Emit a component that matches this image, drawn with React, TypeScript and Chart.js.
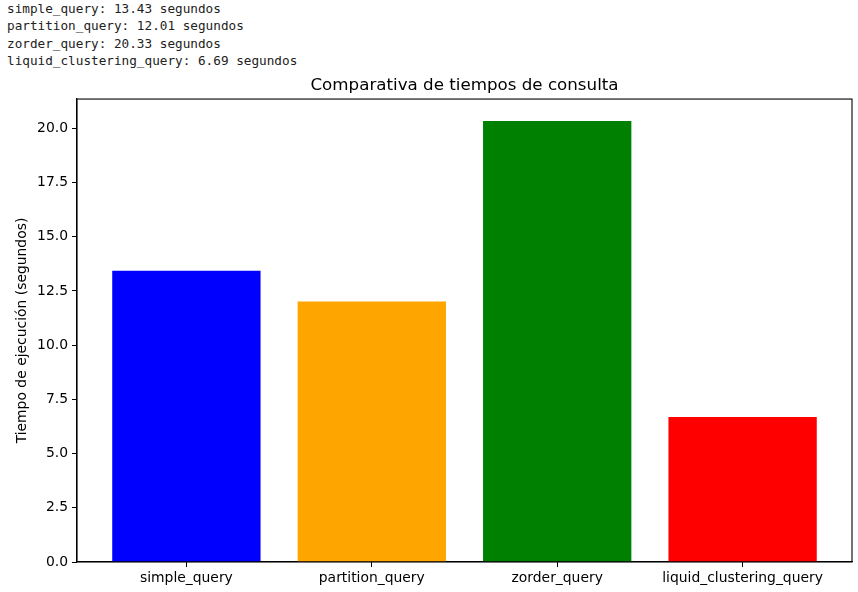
import React, { useEffect, useRef } from "react";
import { Chart, registerables } from "chart.js";

Chart.register(...registerables);

const categories = ["simple_query", "partition_query", "zorder_query", "liquid_clustering_query"];
const times = [13.43, 12.01, 20.33, 6.69];
const yTicks = [0, 2.5, 5, 7.5, 10, 12.5, 15, 17.5, 20];

const barColors = ["#0000ff", "#ffa500", "#008000", "#ff0000"];

const FONT = "'DejaVu Sans', sans-serif";

const boxPlugin = {
  id: "boxPlugin",
  afterDraw(chart: any) {
    const { ctx, chartArea } = chart;
    ctx.save();
    ctx.strokeStyle = "#000";
    ctx.lineWidth = 1.1;
    ctx.strokeRect(chartArea.left, chartArea.top, chartArea.right - chartArea.left, chartArea.bottom - chartArea.top);
    ctx.restore();
  },
};

export default function App() {
  const ref = useRef<HTMLCanvasElement | null>(null);

  useEffect(() => {
    if (!ref.current) return;
    const yMax = Math.max(...times) * 1.05;
    const n = categories.length;
    const xMargin = (n - 1 + 0.8) * 0.05;
    const chart = new Chart(ref.current, {
      type: "bar",
      data: {
        datasets: [
          {
            data: categories.map((_, i) => ({ x: i, y: times[i] })),
            backgroundColor: barColors,
            borderWidth: 0,
            barPercentage: 0.8,
            categoryPercentage: 1,
          } as any,
        ],
      },
      plugins: [boxPlugin],
      options: {
        animation: false,
        responsive: false,
        devicePixelRatio: 1,
        layout: { padding: { left: 0, right: 6, top: 0, bottom: 0 } },
        plugins: {
          legend: { display: false },
          tooltip: { enabled: false },
          title: {
            display: true,
            fullSize: false,
            text: "Comparativa de tiempos de consulta",
            color: "#000",
            font: { family: FONT, size: 16.7, weight: "normal" },
            padding: { top: 6, bottom: 3 },
          },
        },
        scales: {
          x: {
            type: "linear",
            offset: false,
            min: -0.4 - xMargin,
            max: n - 1 + 0.4 + xMargin,
            afterBuildTicks: (scale: any) => {
              scale.ticks = categories.map((_, i) => ({ value: i }));
            },
            afterFit: (scale: any) => {
              scale.height = 30;
            },
            grid: { display: true, offset: false, drawOnChartArea: false, drawTicks: true, tickLength: 5, color: "#000" },
            border: { display: true, color: "#000", width: 1.1 },
            ticks: {
              color: "#000",
              padding: 3,
              maxRotation: 0,
              autoSkip: false,
              font: { family: FONT, size: 13.9 },
              callback: (v: any) => categories[Math.round(Number(v))] ?? "",
            },
          },
          y: {
            type: "linear",
            min: 0,
            max: yMax,
            afterBuildTicks: (scale: any) => {
              scale.ticks = yTicks.map((v) => ({ value: v }));
            },
            afterFit: (scale: any) => {
              scale.width = 77;
            },
            grid: { display: true, drawOnChartArea: false, drawTicks: true, tickLength: 5, color: "#000" },
            border: { display: true, color: "#000", width: 1.1 },
            ticks: {
              color: "#000",
              padding: 4,
              font: { family: FONT, size: 13.9 },
              callback: (v: any) => Number(v).toFixed(1),
            },
            title: {
              display: true,
              text: "Tiempo de ejecución (segundos)",
              color: "#000",
              font: { family: FONT, size: 13.9 },
              padding: { top: 14, bottom: 0 },
            },
          },
        },
      } as any,
    });
    return () => chart.destroy();
  }, []);

  return (
    <div style={{ position: "fixed", left: 0, top: 0, width: 858, height: 592, background: "#fff", overflow: "hidden" }}>
      <div
        style={{
          position: "absolute",
          left: 7,
          top: 0,
          fontFamily: "'DejaVu Sans Mono', monospace",
          fontSize: 12.7,
          lineHeight: "17.3px",
          color: "#222",
          whiteSpace: "pre",
        }}
      >
        {categories.map((c, i) => (
          <div key={c}>{`${c}: ${times[i].toFixed(2)} segundos`}</div>
        ))}
      </div>
      <canvas
        ref={ref}
        width={858}
        height={522}
        style={{ position: "absolute", left: 0, top: 70, width: 858, height: 522 }}
      />
    </div>
  );
}
